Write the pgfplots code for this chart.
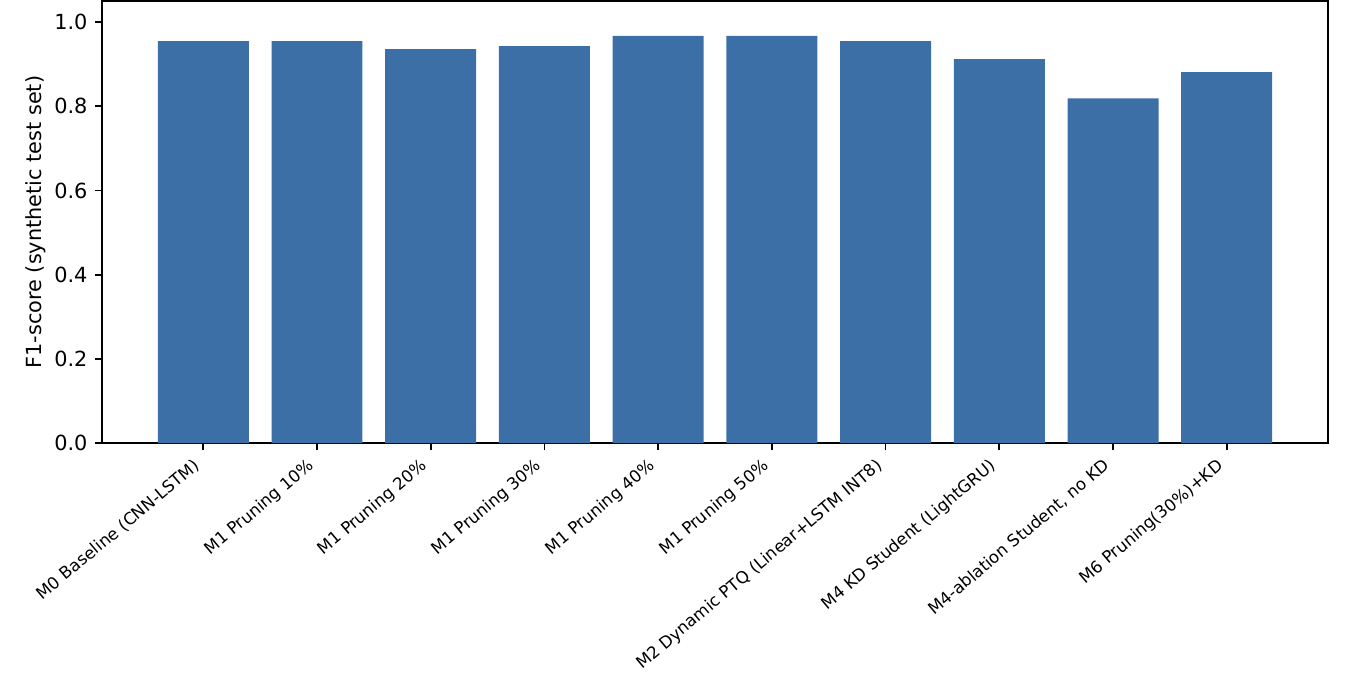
\documentclass[border=0pt]{standalone}
\usepackage{pgfplots}
\pgfplotsset{compat=1.18}
\usepackage{fontspec}
\setmainfont{DejaVu Sans}
\definecolor{barblue}{RGB}{60,111,165}

\begin{document}
\begin{tikzpicture}
\begin{axis}[
    name=ax,
    scale only axis,
    width=588.5pt, height=212.2pt,
    ybar, bar width=0.8,
    xmin=-0.89, xmax=9.89,
    ymin=0, ymax=1.05,
    xtick=data,
    xticklabels={M0 Baseline (CNN-LSTM), M1 Pruning 10\%, M1 Pruning 20\%,
        M1 Pruning 30\%, M1 Pruning 40\%, M1 Pruning 50\%,
        M2 Dynamic PTQ (Linear+LSTM INT8), M4 KD Student (LightGRU),
        {M4-ablation Student, no KD}, M6 Pruning(30\%)+KD},
    ytick={0,0.2,0.4,0.6,0.8,1.0},
    ylabel={F1-score (synthetic test set)},
    ylabel style={font=\fontsize{10}{12}\selectfont},
    ylabel shift=-3pt,
    yticklabel style={font=\fontsize{10}{12}\selectfont},
    xticklabel style={font=\fontsize{8}{9.6}\selectfont, xshift=-5pt, yshift=-2pt, rotate=40, anchor=north east, inner sep=1pt},
    /pgf/number format/.cd, fixed, fixed zerofill, precision=1, assume math mode=true,
    /pgfplots/.cd,
    tick align=outside,
    xtick pos=bottom, ytick pos=left,
    major tick length=3.5pt,
    every tick/.style={black, line width=0.8pt},
    axis line style={line width=0.8pt},
]
\addplot[draw=none, fill=barblue] coordinates {
    (0,0.955) (1,0.955) (2,0.936) (3,0.943) (4,0.967)
    (5,0.967) (6,0.955) (7,0.912) (8,0.819) (9,0.881)
};
\end{axis}
\path[use as bounding box] ([shift={(-49pt,-115.7pt)}]ax.south west) rectangle ([shift={(10.6pt,0.5pt)}]ax.north east);
\end{tikzpicture}
\end{document}
